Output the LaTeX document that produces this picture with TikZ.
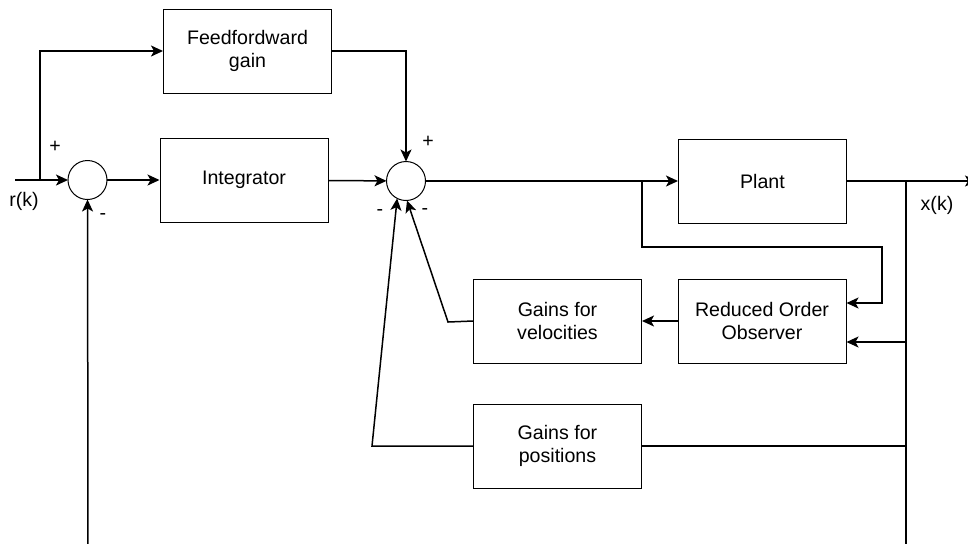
\documentclass[tikz,border=0pt]{standalone}
\usepackage{fontspec}
\setmainfont{Liberation Sans}
\usepackage{tikz}
\usetikzlibrary{positioning}
\usetikzlibrary{arrows.meta}
\usetikzlibrary{shapes}

\begin{document}
\begin{tikzpicture}[
		block/.style = { draw, black, line width = 0.5pt, minimum width = 168*\oneUnit, minimum height = 84*\oneUnit, align = center, inner sep = 0pt, font = \fontsize{9.8}{11.6}\selectfont },
		sum/.style = { circle, draw, black, line width = 0.5pt, minimum size = 39*\oneUnit, inner sep = 0pt, outer sep = 0pt },
		sign/.style = { font = \fontsize{9.8}{11.6}\selectfont, inner sep = 0pt, outer sep = 0pt },
		wire/.style = { line width = 0.75pt },
		>={Stealth[length=6pt,width=5.5pt,inset=1.5pt]},
		]
		\def\oneUnit{0.5pt}
		
		\useasboundingbox (0,0) rectangle (968*\oneUnit,-543*\oneUnit);
		
		\node[block] (FF) at (247.5*\oneUnit,-51*\oneUnit) {Feedfordward\\gain};
		\node[block] (INT) at (244*\oneUnit,-180*\oneUnit) {Integrator};
		\node[block] (PLANT) at (762.5*\oneUnit,-181*\oneUnit) {Plant};
		\node[block] (OBS) at (762*\oneUnit,-321*\oneUnit) {Reduced Order\\Observer};
		\node[block] (VEL) at (557.5*\oneUnit,-321*\oneUnit) {Gains for\\velocities};
		\node[block] (POS) at (557.5*\oneUnit,-446*\oneUnit) {Gains for\\positions};
		
		\node[sum] (SUM1) at (87.5*\oneUnit,-180*\oneUnit) {};
		\node[sum] (SUM2) at (406*\oneUnit,-181*\oneUnit) {};
		
		\node[sign] (rK) at (24*\oneUnit,-201*\oneUnit) {r(k)};
		\node[sign] (xK) at (937*\oneUnit,-205*\oneUnit) {x(k)};
		\node[sign] (plus1) at (55*\oneUnit,-147*\oneUnit) {+};
		\node[sign] (minus1) at (103*\oneUnit,-217*\oneUnit) {-};
		\node[sign] (plus2) at (428*\oneUnit,-142*\oneUnit) {+};
		\node[sign] (minus2) at (380*\oneUnit,-213*\oneUnit) {-};
		\node[sign] (minus3) at (425*\oneUnit,-212*\oneUnit) {-};
		
		\coordinate (IN) at (15*\oneUnit,-180*\oneUnit);
		\coordinate (BRin) at (40*\oneUnit,-180*\oneUnit);
		\coordinate (BOTin) at (88*\oneUnit,-546*\oneUnit);
		\coordinate (BRplant) at (642*\oneUnit,-181*\oneUnit);
		\coordinate (TURNobs) at (882*\oneUnit,-247*\oneUnit);
		\coordinate (BRout) at (906*\oneUnit,-181*\oneUnit);
		\coordinate (OUT) at (977*\oneUnit,-181*\oneUnit);
		\coordinate (BOTout) at (906*\oneUnit,-546*\oneUnit);
		\coordinate (Xobs) at (906*\oneUnit,-342*\oneUnit);
		\coordinate (Xpos) at (906*\oneUnit,-446*\oneUnit);
		\coordinate (KNEEvel) at (448*\oneUnit,-322*\oneUnit);
		\coordinate (KNEEpos) at (372*\oneUnit,-446*\oneUnit);
		
		\path[wire,->] (IN) edge [] (SUM1);
		\draw[wire,->] (BRin) |- (FF.west);
		\path[wire,->] (SUM1) edge [] (INT);
		\path[wire,->] (BOTin) edge [] (SUM1);
		
		\path[wire,->] (INT) edge [] (SUM2);
		\draw[wire,->] (FF.east) -| (SUM2.north);
		\path[wire,->] (SUM2) edge [] (PLANT);
		
		\draw[wire,->] (BRplant) |- (TURNobs) |- ([yshift=18*\oneUnit]OBS.east);
		\path[wire,->] (PLANT) edge [] (OUT);
		\draw[wire] (BRout) -- (BOTout);
		\draw[wire,->] (Xobs) -- ([yshift=-21*\oneUnit]OBS.east);
		\draw[wire] (Xpos) -- (POS.east);
		
		\path[wire,->] (OBS) edge [] (VEL);
		\draw[wire,->] (VEL.west) -- (KNEEvel) -- (SUM2.273);
		\draw[wire,->] (POS.west) -- (KNEEpos) -- (SUM2.243);
		
\end{tikzpicture}
\end{document}
